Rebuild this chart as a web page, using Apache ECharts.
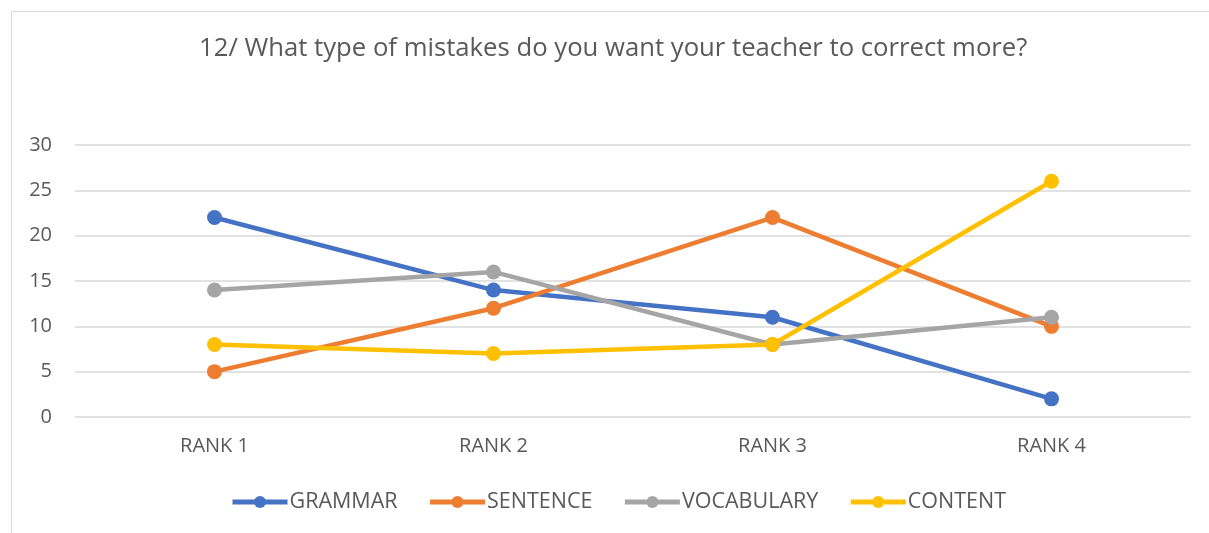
<!DOCTYPE html>
<html><head><meta charset="utf-8">
<script src="https://cdn.jsdelivr.net/npm/echarts@6/dist/echarts.min.js"></script>
<style>html,body{margin:0;padding:0;background:#fff}#c{width:1209px;height:533px}</style>
</head><body><div id="c"></div>
<script>
const categories = ['RANK 1','RANK 2','RANK 3','RANK 4'];
const grammar = [22, 14, 11, 2];
const sentence = [5, 12, 22, 10];
const vocabulary = [14, 16, 8, 11];
const content = [8, 7, 8, 26];
const seriesNames = ['GRAMMAR','SENTENCE','VOCABULARY','CONTENT'];
const colors = ['#4472C4','#ED7D31','#A5A5A5','#FFC000'];
const values = [grammar, sentence, vocabulary, content];

const chart = echarts.init(document.getElementById('c'));
const font = '"Open Sans", "Noto Sans", sans-serif';
chart.setOption({
  animation: false,
  color: colors,
  title: {
    text: '12/ What type of mistakes do you want your teacher to correct more?',
    left: 194, top: 31,
    textStyle: {fontFamily: font, fontSize: 25.7, fontWeight: 'normal', color: '#595959'}
  },
  graphic: [{type:'rect', shape:{x:11.5,y:11.5,width:1220,height:540}, style:{fill:'none', stroke:'#D9D9D9', lineWidth:1}, silent:true}],
  legend: {
    top: 486, left: 225, itemGap: 30, itemWidth: 55, itemHeight: 15,
    lineStyle: {width: 5},
    textStyle: {fontFamily: font, fontSize: 21.5, color: '#595959', padding:[0,0,0,-3]},
    data: seriesNames
  },
  grid: {left: 75, right: 18, top: 145, bottom: 116, containLabel: false},
  xAxis: {
    type: 'category', data: categories, boundaryGap: true,
    axisLine: {show: false}, axisTick: {show: false},
    axisLabel: {fontFamily: font, fontSize: 20, color: '#595959', margin: 19}
  },
  yAxis: {
    type: 'value', min: 0, max: 30, interval: 5,
    axisLine: {show: false}, axisTick: {show: false},
    axisLabel: {fontFamily: font, fontSize: 20, color: '#595959', margin: 23},
    splitLine: {lineStyle: {color: '#D9D9D9', width: 1.5}}
  },
  series: values.map((v, i) => ({
    name: seriesNames[i], type: 'line', data: v,
    symbol: 'circle', symbolSize: 15,
    lineStyle: {width: 4.5, color: colors[i]},
    itemStyle: {color: colors[i]}
  }))
});
</script></body></html>
